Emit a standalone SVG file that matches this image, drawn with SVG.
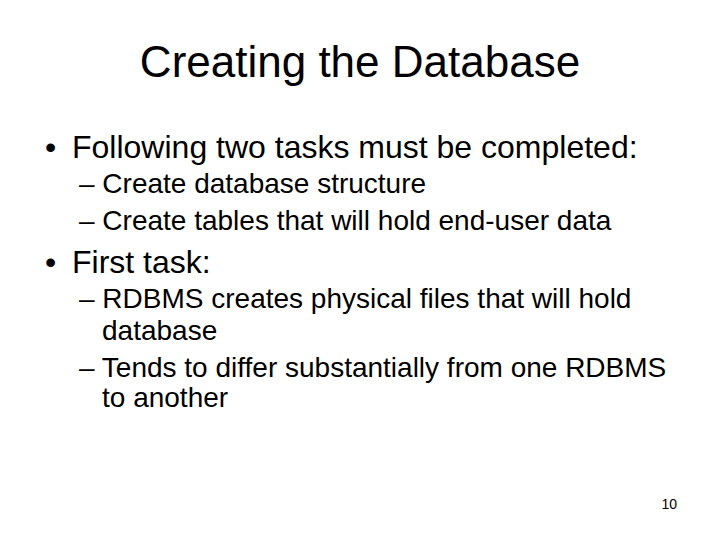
<svg xmlns="http://www.w3.org/2000/svg" width="720" height="540" viewBox="0 0 720 540">
<style>
text{font-family:"Liberation Sans",Arial,sans-serif;fill:#000}
.t{font-size:44px}
.l1{font-size:32px}
.l2{font-size:28px}
.n{font-size:14px}
</style>
<rect width="720" height="540" fill="#fff"/>
<g id="title"><text class="t" x="360" y="77" text-anchor="middle">Creating the Database</text></g>
<g id="body">
<text class="l1" x="45" y="158">•</text>
<text class="l1" x="72" y="158">Following two tasks must be completed:</text>
<text class="l2" x="79" y="193">– Create database structure</text>
<text class="l2" x="79" y="230">– Create tables that will hold end-user data</text>
<text class="l1" x="45" y="273">•</text>
<text class="l1" x="72" y="273">First task:</text>
<text class="l2" x="79" y="308">– RDBMS creates physical files that will hold</text>
<text class="l2" x="102" y="340">database</text>
<text class="l2" x="79" y="377">– Tends to differ substantially from one RDBMS</text>
<text class="l2" x="102" y="407">to another</text>
</g>
<g id="page"><text class="n" x="677" y="509" text-anchor="end">10</text></g>
</svg>
